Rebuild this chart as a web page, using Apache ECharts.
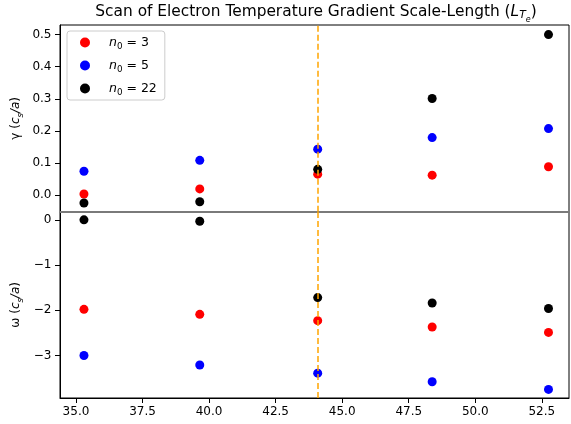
<!DOCTYPE html>
<html>
<head>
<meta charset="utf-8">
<script src="https://cdn.jsdelivr.net/npm/echarts@6/dist/echarts.min.js"></script>
<style>
  html, body { margin: 0; padding: 0; background: #fff; }
  #chart { width: 571px; height: 424px; }
</style>
</head>
<body>
<div id="chart"></div>
<script>
// L_Te scan values
const lte = [35.3, 39.65, 44.08, 48.38, 52.75];
const gamma3 = [0.003, 0.019, 0.065, 0.062, 0.088];
const gamma5 = [0.074, 0.108, 0.143, 0.179, 0.207];
const gamma22 = [-0.025, -0.021, 0.080, 0.301, 0.500];
const omega3 = [-1.98, -2.09, -2.23, -2.37, -2.49];
const omega5 = [-3.00, -3.21, -3.39, -3.58, -3.75];
const omega22 = [0.00, -0.03, -1.72, -1.84, -1.96];
const refLte = 44.08;

const xTicks = [35, 37.5, 40, 42.5, 45, 47.5, 50, 52.5];
const gammaTicks = [0, 0.1, 0.2, 0.3, 0.4, 0.5];
const omegaTicks = [-3, -2, -1, 0];
const names = ['3', '5', '22'];
const colors = ['#ff0000', '#0000ff', '#000000'];

const FONT = 'DejaVu Sans';
const pair = (ys) => lte.map((x, i) => [x, ys[i]]);
const minus = (v) => String(v).replace('-', '\u2212');

const chart = echarts.init(document.getElementById('chart'), null, { renderer: 'canvas' });

function richSet(size, lh) {
  const base = { fontFamily: FONT, fontWeight: 'normal', color: '#000', lineHeight: lh };
  return {
    n: { ...base, fontSize: size },
    i: { ...base, fontSize: size, fontStyle: 'italic' },
    s: { ...base, fontSize: size * 0.7, fontStyle: 'italic', verticalAlign: 'bottom' },
    d: { ...base, fontSize: size * 0.7, verticalAlign: 'bottom' }
  };
}

function xAxisFor(idx, showLabels) {
  return {
    type: 'value', gridIndex: idx, min: 34.4, max: 53.52,
    axisLine: { show: true, onZero: false, lineStyle: { color: idx === 0 ? '#7a7a7a' : '#000', width: idx === 0 ? 2 : 1 } },
    axisTick: { show: showLabels, customValues: xTicks, length: 5, lineStyle: { color: '#000' } },
    axisLabel: {
      show: showLabels, customValues: xTicks, margin: 8,
      fontFamily: FONT, fontSize: 12, color: '#000',
      formatter: (v) => v.toFixed(1)
    },
    splitLine: { show: false }
  };
}

function scatter(name, data, xi, yi, color) {
  return {
    type: 'scatter', name, data, xAxisIndex: xi, yAxisIndex: yi,
    symbolSize: 9, itemStyle: { color, opacity: 1 },
    emphasis: { disabled: true }, z: 3
  };
}

const refLine = {
  silent: true, symbol: 'none', label: { show: false },
  lineStyle: { color: '#ffa500', type: [6, 3], width: 1.5 },
  data: [{ xAxis: refLte }]
};

const series = [
  scatter(names[0], pair(gamma3), 0, 0, colors[0]),
  scatter(names[1], pair(gamma5), 0, 0, colors[1]),
  scatter(names[2], pair(gamma22), 0, 0, colors[2]),
  scatter(names[0], pair(omega3), 1, 1, colors[0]),
  scatter(names[1], pair(omega5), 1, 1, colors[1]),
  scatter(names[2], pair(omega22), 1, 1, colors[2])
];
series[0].markLine = refLine;
series[3].markLine = refLine;

const titleRich = richSet(15.4, 20);
titleRich.s.padding = [0, 0, 1, 0];
titleRich.e = { ...titleRich.s, fontSize: 8, padding: [0, 0, -2, 0] };

const option = {
  animation: false,
  backgroundColor: '#fff',
  title: {
    left: 311, top: 0, padding: [2, 5, 2, 5], textAlign: 'center',
    text: '{n|Scan of Electron Temperature Gradient Scale-Length (}{i|L}{s|T}{e|e}{n|)}',
    textStyle: { fontWeight: 'normal', rich: titleRich }
  },
  legend: {
    data: names, orient: 'vertical', left: 67, top: 31,
    icon: 'circle', itemWidth: 10, itemHeight: 10, itemGap: 8,
    padding: [5, 8, 3, 13],
    backgroundColor: '#fff', borderColor: '#cccccc', borderWidth: 1, borderRadius: 3,
    formatter: (name) => '{i|n}{d|0}{n| = ' + name + '}',
    textStyle: { padding: [0, 0, 0, 14], rich: richSet(12.5, 17) }
  },
  grid: [
    { left: 60, right: 2, top: 25, height: 186.7, show: true, borderColor: '#000', borderWidth: 1 },
    { left: 60, right: 2, top: 211.7, height: 186.3, show: true, borderColor: '#000', borderWidth: 1 }
  ],
  xAxis: [xAxisFor(0, false), xAxisFor(1, true)],
  yAxis: [
    {
      type: 'value', gridIndex: 0, min: -0.052, max: 0.53,
      name: '{n|\u03b3 (}{i|c}{s|s}{i|/a}{n|)}', nameLocation: 'middle', nameGap: 35, nameRotate: 90,
      nameMoveOverlap: false,
      nameTextStyle: { rich: richSet(12, 18) },
      axisLine: { show: true, lineStyle: { color: '#000' } },
      axisTick: { show: true, customValues: gammaTicks, length: 5, lineStyle: { color: '#000' } },
      axisLabel: { customValues: gammaTicks, margin: 8.5, fontFamily: FONT, fontSize: 12, color: '#000', formatter: (v) => minus(v.toFixed(1)) },
      splitLine: { show: false }
    },
    {
      type: 'value', gridIndex: 1, min: -3.94, max: 0.18,
      name: '{n|\u03c9 (}{i|c}{s|s}{i|/a}{n|)}', nameLocation: 'middle', nameGap: 35, nameRotate: 90,
      nameMoveOverlap: false,
      nameTextStyle: { rich: richSet(12, 18) },
      axisLine: { show: true, lineStyle: { color: '#000' } },
      axisTick: { show: true, customValues: omegaTicks, length: 5, lineStyle: { color: '#000' } },
      axisLabel: { customValues: omegaTicks, margin: 8.5, fontFamily: FONT, fontSize: 12, color: '#000', formatter: (v) => minus(Math.round(v)) },
      splitLine: { show: false }
    }
  ],
  series
};

chart.setOption(option);
</script>
</body>
</html>
